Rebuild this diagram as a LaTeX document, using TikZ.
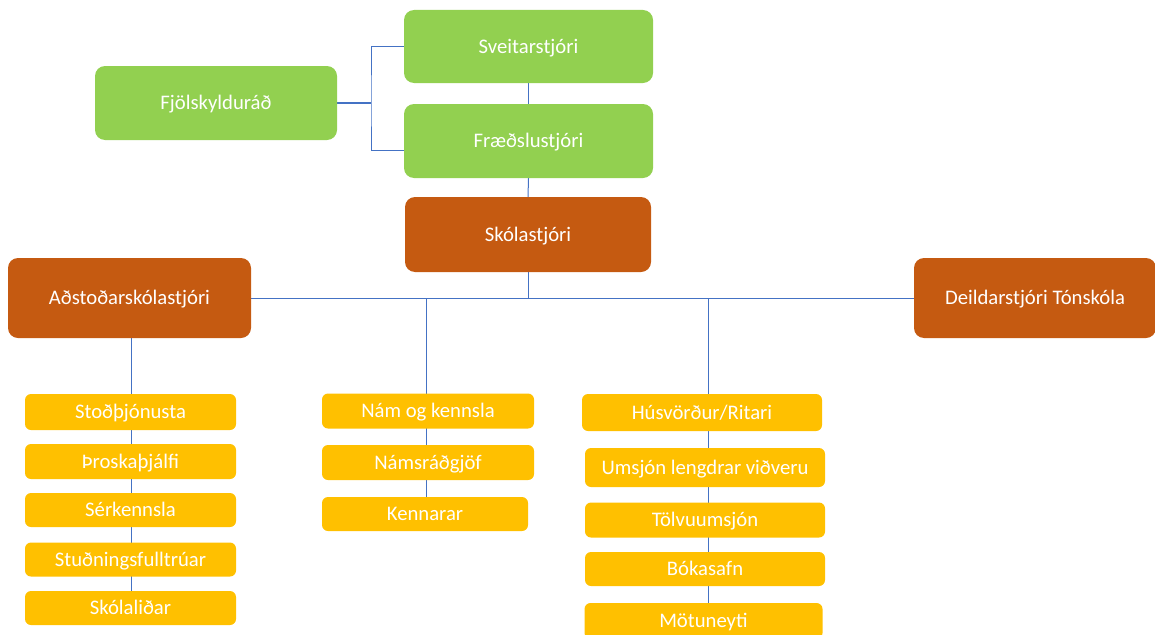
\documentclass[tikz,border=0pt]{standalone}
\usepackage{fontspec}
\setmainfont{Carlito}
\usetikzlibrary{backgrounds}
\definecolor{grn}{HTML}{92D050}
\definecolor{org}{HTML}{C55A11}
\definecolor{ylw}{HTML}{FFC000}
\definecolor{lnb}{HTML}{4472C4}
\tikzset{
  box/.style={rounded corners=10pt, inner sep=0pt, outer sep=0pt, text=white,
    font=\fontsize{20.7}{24}\selectfont, align=center, text height=13pt, text depth=0pt},
  gbox/.style={box, fill=grn},
  obox/.style={box, fill=org},
  ybox/.style={box, fill=ylw, rounded corners=6pt},
  conn/.style={draw=lnb, line width=1pt},
}
\begin{document}
\begin{tikzpicture}[x=1pt,y=-1pt]
\path[use as bounding box] (0,0) rectangle (1155,634);
\clip (0,0) rectangle (1155,634);
% top green / orange
\node[gbox, minimum width=242pt, minimum height=74pt] (fj) at (216,103) {Fjölskylduráð};
\node[gbox, minimum width=249pt, minimum height=73pt] (sv) at (528.5,46.5) {Sveitarstjóri};
\node[gbox, minimum width=249pt, minimum height=74pt] (fr) at (528.5,141) {Fræðslustjóri};
\node[obox, minimum width=246pt, minimum height=75pt] (sk) at (528,234.5) {Skólastjóri};
\node[obox, minimum width=243pt, minimum height=80pt] (ad) at (129.5,298) {Aðstoðarskólastjóri};
\node[obox, minimum width=242pt, minimum height=80pt] (de) at (1035,298) {Deildarstjóri Tónskóla};
% left column
\node[ybox, minimum width=211pt, minimum height=36pt] (stod) at (130.5,412) {Stoðþjónusta};
\node[ybox, minimum width=211pt, minimum height=35pt] (thr) at (130.5,461.5) {Þroskaþjálfi};
\node[ybox, minimum width=211pt, minimum height=34pt] (ser) at (130.5,510) {Sérkennsla};
\node[ybox, minimum width=211pt, minimum height=34pt] (stu) at (130.5,559.5) {Stuðningsfulltrúar};
\node[ybox, minimum width=211pt, minimum height=34pt] (skl) at (130.5,608) {Skólaliðar};
% middle column
\node[ybox, minimum width=212pt, minimum height=35pt] (nam) at (428,411) {Nám og kennsla};
\node[ybox, minimum width=212pt, minimum height=35pt] (nrg) at (428,462.5) {Námsráðgjöf};
\node[ybox, minimum width=206pt, minimum height=34pt] (ken) at (425,514) {Kennarar};
% right column
\node[ybox, minimum width=240pt, minimum height=37pt] (hus) at (702,412.5) {Húsvörður/Ritari};
\node[ybox, minimum width=240pt, minimum height=39pt] (ums) at (705,467.5) {Umsjón lengdrar viðveru};
\node[ybox, minimum width=240pt, minimum height=35pt] (tol) at (705,520) {Tölvuumsjón};
\node[ybox, minimum width=240pt, minimum height=34pt] (bok) at (705,569) {Bókasafn};
\node[ybox, minimum width=238pt, minimum height=36pt] (mot) at (703.5,621) {Mötuneyti};
% connectors
\coordinate (fjj) at (371,103);
\coordinate (bus) at (528,298);
\coordinate (lj) at (131,338);
\coordinate (mj) at (426,298);
\coordinate (rj) at (708,298);
\begin{scope}[on background layer]
\draw[conn, line width=1.6pt] (fj.east) -- (fjj);
\draw[conn] (sv.west) -| (fjj) |- ([yshift=-9pt]fr.west);
\draw[conn] (sv.south) -- (fr.north);
\draw[conn] (fr.south) -- (sk.north);
\draw[conn] (sk.south) -- (bus);
\draw[conn] (ad.east) -- (de.west);
\draw[conn] (lj) -- (lj |- skl.north);
\draw[conn] (mj) -- (mj |- ken.north);
\draw[conn] (rj) -- (rj |- mot.north);
\end{scope}
\end{tikzpicture}
\end{document}
